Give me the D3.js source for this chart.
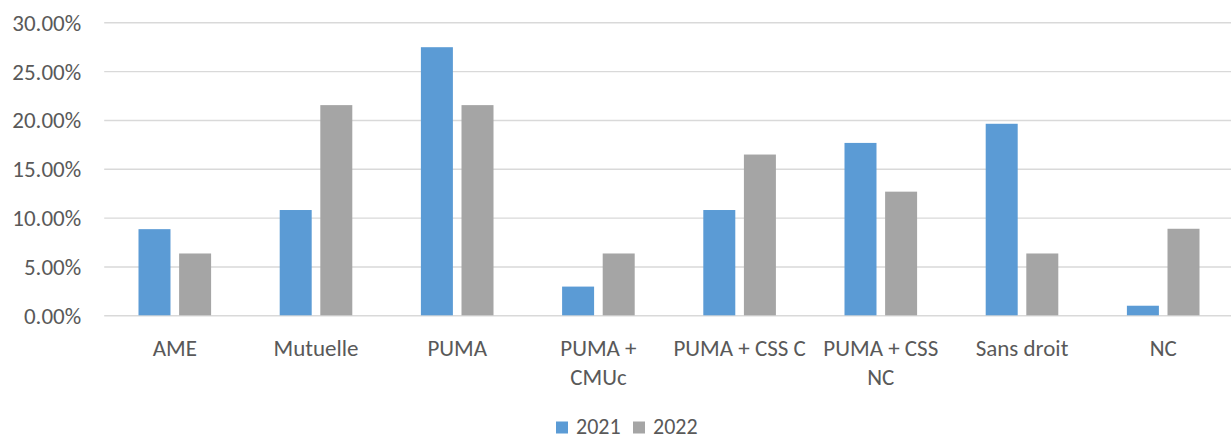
<!DOCTYPE html>
<html><head><meta charset="utf-8">
<script src="https://cdn.jsdelivr.net/npm/d3@7"></script>
<style>
html,body{margin:0;padding:0;background:#fff;}
svg{display:block;}
text{font-family:Carlito,Lato,"Liberation Sans",sans-serif;fill:#595959;}
</style></head>
<body>
<svg id="c" width="1231" height="439"></svg>
<script>
const categories = ["AME","Mutuelle","PUMA","PUMA + CMUc","PUMA + CSS C","PUMA + CSS NC","Sans droit","NC"];
const categoryLines = [["AME"],["Mutuelle"],["PUMA"],["PUMA +","CMUc"],["PUMA + CSS C"],["PUMA + CSS","NC"],["Sans droit"],["NC"]];
const seriesNames = ["2021","2022"];
const values2021 = [8.82,10.78,27.45,2.94,10.78,17.65,19.61,0.98];
const values2022 = [6.33,21.52,21.52,6.33,16.46,12.66,6.33,8.86];
const yTicks = [0,5,10,15,20,25,30];
const colors = ["#5B9BD5","#A5A5A5"];

(function(){
const svg = d3.select("#c");
const mLeft = 104.2, mRight = 1233.8, mTop = 22.3, mBottom = 315.3;
const fs = 23;

const x0 = d3.scaleBand().domain(categories).range([mLeft, mRight]).padding(0);
const bw = x0.bandwidth();
const barW = bw * 0.2266, gap = bw * 0.061;
const x1 = d3.scaleOrdinal().domain(seriesNames).range([-gap/2 - barW, gap/2]);
const y = d3.scaleLinear().domain([0,30]).range([mBottom, mTop]);

const yAxis = d3.axisLeft(y).tickValues(yTicks).tickSize(-(1231-mLeft)).tickFormat(d => d3.format(".2f")(d) + "%");
const gy = svg.append("g").attr("transform", `translate(${mLeft},0)`).call(yAxis);
gy.select(".domain").remove();
gy.selectAll(".tick line").attr("stroke","#D9D9D9").attr("stroke-width",1.4);
gy.selectAll(".tick text").attr("x",-23).attr("dy",null).attr("y",8)
  .style("font-size",fs+"px").style("fill","#595959").attr("font-family",null);

const data = categories.map((c,i)=>({c, vals:[values2021[i], values2022[i]]}));
const groups = svg.append("g").selectAll("g").data(data).join("g")
  .attr("transform", d => `translate(${x0(d.c)+bw/2},0)`);
groups.selectAll("rect").data(d => d.vals.map((v,j)=>({v, s:seriesNames[j], j})))
  .join("rect")
  .attr("x", d => x1(d.s))
  .attr("width", barW)
  .attr("y", d => y(d.v))
  .attr("height", d => y(0) - y(d.v))
  .attr("fill", d => colors[d.j]);

const xAxis = d3.axisBottom(x0).tickSize(0);
const gx = svg.append("g").attr("transform", `translate(0,${mBottom})`).call(xAxis);
gx.select(".domain").remove();
gx.selectAll(".tick text").attr("font-family",null).style("font-size",fs+"px").style("fill","#595959")
  .attr("y",0).attr("dy",null)
  .each(function(d){
    const t = d3.select(this);
    const lines = categoryLines[categories.indexOf(d)];
    t.text(null);
    lines.forEach((l,i) => t.append("tspan").attr("x",0).attr("y", 41 + i*29).text(l));
  });

const legend = svg.append("g");
const lx = [556, 633];
seriesNames.forEach((s,i) => {
  legend.append("rect").attr("x", lx[i]).attr("y", 421.5).attr("width", 12).attr("height", 12).attr("fill", colors[i]);
  legend.append("text").attr("x", lx[i] + 20).attr("y", 433.5).style("font-size","22px").text(s);
});
})();
</script>
</body></html>
